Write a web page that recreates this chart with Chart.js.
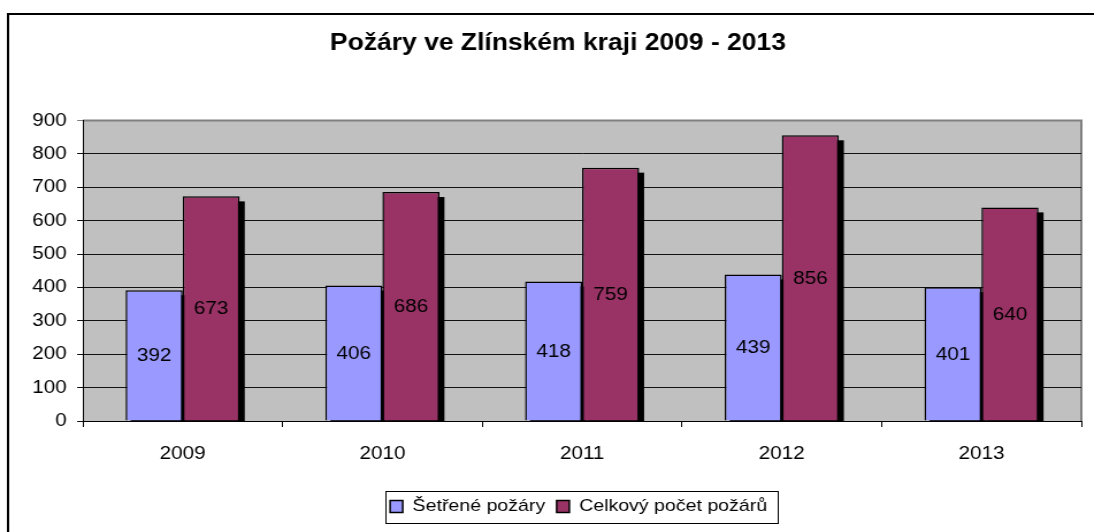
<!DOCTYPE html>
<html lang="cs">
<head>
    <meta charset="UTF-8">
    <title>Požáry ve Zlínském kraji 2009 - 2013</title>
    <style>
        body { margin: 0; background: #fff; }
    </style>
</head>
<body>
    <!-- the original picture is a bit wider than its fonts, so the canvas is stretched -->
    <canvas id="chart" width="951" height="532" style="display:block;width:1094px;height:532px"></canvas>

    <script src="https://cdn.jsdelivr.net/npm/chart.js"></script>
    <script>
        const years = ['2009', '2010', '2011', '2012', '2013'];
        const setrenePozary = [392, 406, 418, 439, 401];
        const celkovyPocet = [673, 686, 759, 856, 640];
        const yMin = 0;
        const yMax = 900;
        const yStep = 100;

        const FONT = "'Liberation Sans', Arial, sans-serif";
        const SX = 1094 / 951; // horizontal stretch of the canvas

        // grey plot area + outer frame
        const frame = {
            id: 'frame',
            beforeDraw(chart) {
                const { ctx, chartArea: a } = chart;
                ctx.save();
                ctx.fillStyle = '#C0C0C0';
                ctx.fillRect(a.left, a.top, a.right - a.left, a.bottom - a.top);
                ctx.strokeStyle = '#808080';
                ctx.lineWidth = 2;
                ctx.beginPath();
                ctx.moveTo(a.left, a.top);
                ctx.lineTo(a.right, a.top);
                ctx.lineTo(a.right, a.bottom);
                ctx.stroke();
                ctx.strokeStyle = '#000';
                ctx.lineWidth = 2;
                ctx.beginPath();
                ctx.moveTo(7, chart.height);
                ctx.lineTo(7, 14);
                ctx.lineTo(chart.width, 14);
                ctx.stroke();
                ctx.restore();
            }
        };

        // title and legend sit a little right of the middle in the original
        const nudge = {
            id: 'nudge',
            afterLayout(chart) {
                const t = chart.titleBlock;
                t.left += 15; t.right += 15;
                const l = chart.legend;
                l.left += 33; l.right += 33;
            }
        };

        // black drop shadow behind the bars
        const shadows = {
            id: 'shadows',
            beforeDatasetsDraw(chart) {
                const { ctx, chartArea: a } = chart;
                ctx.save();
                ctx.beginPath();
                ctx.rect(a.left, a.top, a.right - a.left, a.bottom - a.top);
                ctx.clip();
                ctx.fillStyle = '#000';
                chart.data.datasets.forEach((ds, i) => {
                    chart.getDatasetMeta(i).data.forEach(bar => {
                        const { x, y, base, width } = bar.getProps(['x', 'y', 'base', 'width'], true);
                        ctx.fillRect(x - width / 2 + 5 / SX, y + 5, width, base - y);
                    });
                });
                ctx.restore();
            }
        };

        // value in the middle of every bar
        const barValues = {
            id: 'barValues',
            afterDatasetsDraw(chart) {
                const { ctx } = chart;
                ctx.save();
                ctx.font = '18px ' + FONT;
                ctx.fillStyle = '#000';
                ctx.textAlign = 'center';
                ctx.textBaseline = 'middle';
                chart.data.datasets.forEach((ds, i) => {
                    chart.getDatasetMeta(i).data.forEach((bar, j) => {
                        const { x, y, base } = bar.getProps(['x', 'y', 'base'], true);
                        ctx.fillText(ds.data[j], x, (y + base) / 2 + 1);
                    });
                });
                ctx.restore();
            }
        };

        // frame round the legend
        const legendBox = {
            id: 'legendBox',
            afterDraw(chart) {
                const boxes = chart.legend.legendHitBoxes;
                if (!boxes || !boxes.length) return;
                const first = boxes[0];
                const last = boxes[boxes.length - 1];
                const { ctx } = chart;
                const cy = first.top + first.height / 2;
                const x0 = Math.round(first.left - 5 / SX) + 0.5;
                const x1 = Math.round(last.left + last.width + 11 / SX) + 0.5;
                ctx.save();
                ctx.strokeStyle = '#000';
                ctx.lineWidth = 1;
                ctx.strokeRect(x0, Math.round(cy - 16) + 0.5, x1 - x0, 32);
                ctx.restore();
            }
        };

        new Chart(document.getElementById('chart'), {
            type: 'bar',
            data: {
                labels: years,
                datasets: [{
                    label: 'Šetřené požáry',
                    data: setrenePozary,
                    backgroundColor: '#9999FF',
                    borderColor: '#000',
                    borderWidth: 1.5
                }, {
                    label: 'Celkový počet požárů',
                    data: celkovyPocet,
                    backgroundColor: '#993366',
                    borderColor: '#000',
                    borderWidth: 1.5
                }]
            },
            options: {
                responsive: false,
                devicePixelRatio: 1,
                animation: false,
                layout: { padding: { left: 0, right: 11, top: 0, bottom: 7 } },
                datasets: {
                    bar: { categoryPercentage: 2 / 3.5, barPercentage: 1 }
                },
                plugins: {
                    title: {
                        display: true,
                        text: 'Požáry ve Zlínském kraji 2009 - 2013',
                        color: '#000',
                        font: { family: FONT, size: 23, weight: 'bold', lineHeight: 1.2 },
                        padding: { top: 30, bottom: 63 }
                    },
                    legend: {
                        position: 'bottom',
                        labels: {
                            color: '#000',
                            font: { family: FONT, size: 17 },
                            boxWidth: 11,
                            boxHeight: 12,
                            padding: 10
                        }
                    },
                    tooltip: { enabled: false }
                },
                scales: {
                    x: {
                        afterFit: s => { s.height = 67; },
                        grid: {
                            offset: true,
                            drawOnChartArea: false,
                            drawTicks: true,
                            tickLength: 6,
                            color: '#000'
                        },
                        border: { color: '#000', width: 1 },
                        ticks: {
                            color: '#000',
                            padding: 16,
                            font: { family: FONT, size: 18 }
                        }
                    },
                    y: {
                        min: yMin,
                        max: yMax,
                        afterFit: s => { s.width = 72; },
                        grid: {
                            color: c => (c.tick && c.tick.value === yMax ? '#808080' : '#111'),
                            lineWidth: 1,
                            tickLength: 5
                        },
                        border: { color: '#000', width: 1 },
                        ticks: {
                            stepSize: yStep,
                            color: '#000',
                            padding: 9,
                            font: { family: FONT, size: 18 }
                        }
                    }
                }
            },
            plugins: [frame, nudge, shadows, barValues, legendBox]
        });
    </script>
</body>
</html>
